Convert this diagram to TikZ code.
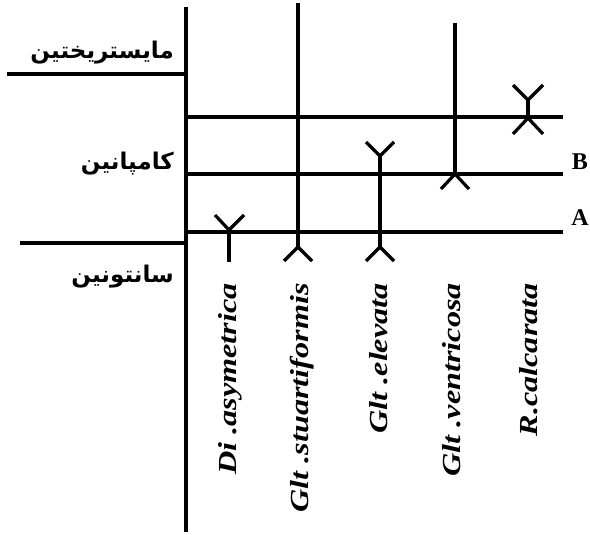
\documentclass[tikz,border=0pt]{standalone}
\usepackage{fontspec}
\usepackage{graphicx}
\setmainfont{Liberation Serif}
\newfontfamily\farsi[Script=Arabic]{DejaVu Sans}
\TeXXeTstate=1
\tikzset{
  ln/.style={line width=3.2pt, line cap=butt, line join=miter},
  fa/.style={anchor=east, inner sep=0pt, font=\fontsize{23}{23}\selectfont\farsi\bfseries},
  sp/.style={rotate=90, anchor=east, inner sep=0pt, font=\fontsize{26}{26}\selectfont\bfseries\itshape},
  zone/.style={inner sep=0pt, font=\fontsize{24}{24}\selectfont\bfseries}
}
\begin{document}
\begin{tikzpicture}[x=1pt,y=-1pt]
\useasboundingbox (0,0) rectangle (590,535);
% main axis and stage boundaries
\coordinate (axT) at (186,7);
\coordinate (axB) at (186,532);
\draw[ln] (axT) -- (axB);
\coordinate (m1) at (7,74);   \coordinate (m2) at (186,74);
\coordinate (s1) at (20,243); \coordinate (s2) at (186,243);
\draw[ln] (m1) -- (m2);
\draw[ln] (s1) -- (s2);
% horizontal datum lines
\coordinate (h1l) at (186,117); \coordinate (h1r) at (563,117);
\coordinate (h2l) at (186,174); \coordinate (h2r) at (563,174);
\coordinate (h3l) at (186,232); \coordinate (h3r) at (563,232);
\draw[ln] (h1l) -- (h1r);
\draw[ln] (h2l) -- (h2r);
\draw[ln] (h3l) -- (h3r);
% stage names
\node[fa] (maas) at (174,53) {\beginR مایستریختین\endR};
\node[fa] (camp) at (174,164) {\beginR کامپانین\endR};
\node[fa] (sant) at (174,277) {\beginR سانتونین\endR};
% zone labels
\node[zone] (B) at (580,162) {B};
\node[zone] (A) at (580,218) {A};
% Di. asymetrica
\coordinate (d0) at (229,230);
\coordinate (d1) at (229,262);
\coordinate (dl) at (215,215);
\coordinate (dr) at (244,215);
\draw[ln] (dl) -- (d0) -- (dr);
\draw[ln] (d0) -- (d1);
% Glt. stuartiformis
\coordinate (g0) at (298,3);
\coordinate (g1) at (298,247);
\coordinate (gl) at (284,261);
\coordinate (gr) at (312,261);
\draw[ln] (g0) -- (g1);
\draw[ln] (gl) -- (g1) -- (gr);
% Glt. elevata
\coordinate (e0) at (380,156);
\coordinate (e1) at (380,247);
\coordinate (etl) at (366,142);
\coordinate (etr) at (394,142);
\coordinate (ebl) at (366,261);
\coordinate (ebr) at (394,261);
\draw[ln] (etl) -- (e0) -- (etr);
\draw[ln] (e0) -- (e1);
\draw[ln] (ebl) -- (e1) -- (ebr);
% Glt. ventricosa
\coordinate (v0) at (455,23);
\coordinate (v1) at (455,174);
\coordinate (vl) at (441,189);
\coordinate (vr) at (469,189);
\draw[ln] (v0) -- (v1);
\draw[ln] (vl) -- (v1) -- (vr);
% R. calcarata
\coordinate (r0) at (528,100);
\coordinate (r1) at (528,118);
\coordinate (rtl) at (513,85);
\coordinate (rtr) at (543,85);
\coordinate (rbl) at (513,134);
\coordinate (rbr) at (543,134);
\draw[ln] (rtl) -- (r0) -- (rtr);
\draw[ln] (r0) -- (r1);
\draw[ln] (rbl) -- (r1) -- (rbr);
% species names
\node[sp] (ndi) at (230,283) {\scalebox{1.24}[1]{Di .asymetrica}};
\node[sp] (nst) at (302,283) {\scalebox{1.24}[1]{Glt .stuartiformis}};
\node[sp] (nel) at (379,283) {\scalebox{1.24}[1]{Glt .elevata}};
\node[sp] (nve) at (452,283) {\scalebox{1.24}[1]{Glt .ventricosa}};
\node[sp] (nrc) at (529,283) {\scalebox{1.24}[1]{R.calcarata}};
\end{tikzpicture}
\end{document}
